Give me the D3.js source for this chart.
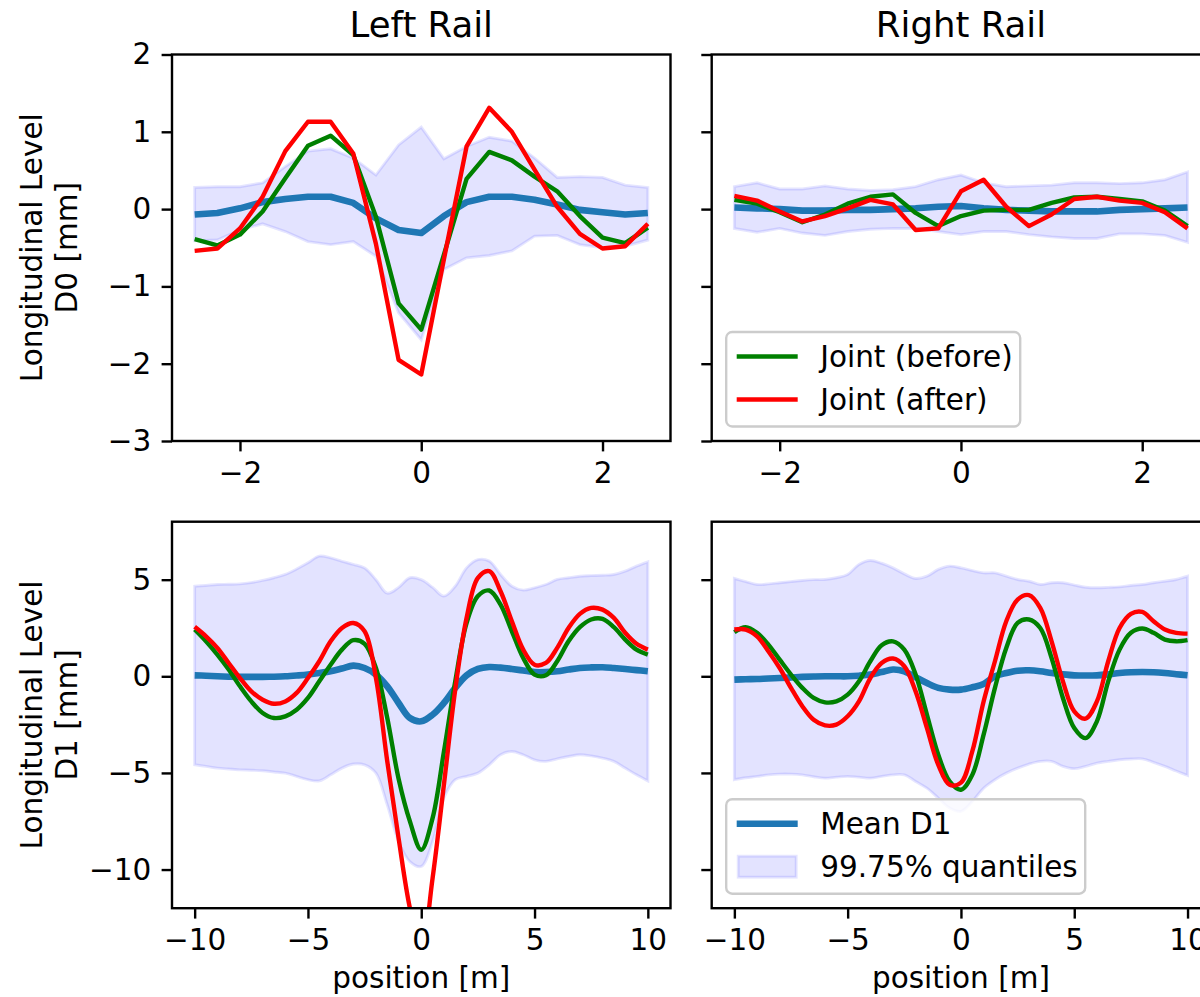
<!DOCTYPE html>
<html>
<head>
<meta charset="utf-8">
<script src="https://cdn.jsdelivr.net/npm/d3@7"></script>
<style>
  body { margin: 0; background: #fff; }
  svg { display: block; font-family: "DejaVu Sans", sans-serif; }
</style>
</head>
<body>
<svg id="chart" width="1200" height="997"></svg>
<script>
// ---- data ----
var railTitles = ["Left Rail", "Right Rail"];
var rowLabels = ["D0 [mm]", "D1 [mm]"];

// D0 (top row), 0.25 m steps
var xD0 = [-2.5, -2.25, -2, -1.75, -1.5, -1.25, -1, -0.75, -0.5, -0.25, 0, 0.25, 0.5, 0.75, 1, 1.25, 1.5, 1.75, 2, 2.25, 2.5];
var leftD0Before = [-0.39, -0.47, -0.33, -0.03, 0.40, 0.82, 0.95, 0.70, -0.10, -1.22, -1.56, -0.59, 0.39, 0.74, 0.63, 0.42, 0.23, -0.09, -0.37, -0.44, -0.24];
var leftD0After = [-0.54, -0.51, -0.25, 0.16, 0.75, 1.13, 1.13, 0.72, -0.45, -1.95, -2.14, -0.65, 0.81, 1.31, 1.00, 0.51, 0.03, -0.32, -0.51, -0.48, -0.19];
var leftD0Mean = [-0.07, -0.05, 0.01, 0.09, 0.13, 0.16, 0.16, 0.08, -0.12, -0.27, -0.31, -0.09, 0.09, 0.16, 0.16, 0.12, 0.06, -0.01, -0.04, -0.07, -0.05];
var leftD0Upper = [0.28, 0.29, 0.29, 0.34, 0.55, 0.75, 0.78, 0.66, 0.44, 0.83, 1.06, 0.65, 0.81, 0.93, 0.88, 0.66, 0.41, 0.42, 0.41, 0.31, 0.28];
var leftD0Lower = [-0.41, -0.40, -0.27, -0.19, -0.29, -0.42, -0.46, -0.42, -0.61, -1.34, -1.69, -0.78, -0.63, -0.60, -0.54, -0.35, -0.34, -0.46, -0.50, -0.48, -0.40];

var rightD0Before = [0.12, 0.07, -0.04, -0.17, -0.07, 0.07, 0.16, 0.19, -0.05, -0.22, -0.09, -0.02, -0.01, -0.01, 0.08, 0.15, 0.16, 0.13, 0.10, -0.02, -0.22];
var rightD0After = [0.17, 0.11, -0.03, -0.16, -0.09, 0.01, 0.12, 0.06, -0.27, -0.25, 0.23, 0.38, 0.03, -0.22, -0.07, 0.13, 0.16, 0.11, 0.08, -0.04, -0.25];
var rightD0Mean = [0.02, 0.01, 0.00, -0.02, -0.02, -0.01, -0.01, 0.00, 0.01, 0.03, 0.04, 0.01, -0.01, -0.02, -0.03, -0.03, -0.03, -0.01, 0.00, 0.01, 0.02];
var rightD0Upper = [0.29, 0.34, 0.26, 0.26, 0.30, 0.26, 0.24, 0.25, 0.29, 0.38, 0.44, 0.34, 0.29, 0.30, 0.31, 0.34, 0.34, 0.33, 0.34, 0.38, 0.48];
var rightD0Lower = [-0.25, -0.30, -0.25, -0.31, -0.34, -0.29, -0.26, -0.25, -0.25, -0.29, -0.33, -0.29, -0.29, -0.33, -0.36, -0.38, -0.38, -0.32, -0.32, -0.34, -0.43];

// D1 (bottom row), 0.5 m steps
var xD1 = [-10, -9.5, -9, -8.5, -8, -7.5, -7, -6.5, -6, -5.5, -5, -4.5, -4, -3.5, -3, -2.5, -2, -1.5, -1, -0.5, 0, 0.5, 1, 1.5, 2, 2.5, 3, 3.5, 4, 4.5, 5, 5.5, 6, 6.5, 7, 7.5, 8, 8.5, 9, 9.5, 10];
var leftD1Before = [2.42, 1.81, 1.12, 0.35, -0.52, -1.30, -1.90, -2.16, -2.07, -1.73, -1.12, -0.26, 0.60, 1.38, 1.87, 1.68, 0.43, -2.16, -5.30, -7.51, -8.98, -7.34, -3.90, -0.26, 2.75, 4.15, 4.44, 3.71, 2.33, 0.95, 0.09, 0.05, 0.78, 1.81, 2.54, 2.94, 2.97, 2.54, 1.90, 1.38, 1.12];
var leftD1After = [2.56, 2.07, 1.47, 0.69, -0.09, -0.78, -1.21, -1.42, -1.30, -0.86, -0.09, 0.78, 1.81, 2.50, 2.76, 2.33, -0.09, -4.40, -8.38, -12.0, -14.2, -10.45, -5.61, -0.69, 3.02, 5.09, 5.44, 4.40, 2.85, 1.38, 0.60, 0.69, 1.47, 2.50, 3.23, 3.54, 3.45, 3.02, 2.25, 1.68, 1.38];
var leftD1Mean = [0.05, 0.03, 0.00, -0.02, -0.03, -0.03, -0.03, -0.02, 0.00, 0.04, 0.09, 0.17, 0.26, 0.40, 0.55, 0.43, 0.09, -0.52, -1.38, -2.16, -2.33, -1.99, -1.38, -0.60, 0.05, 0.38, 0.48, 0.45, 0.38, 0.30, 0.22, 0.22, 0.26, 0.35, 0.43, 0.46, 0.47, 0.43, 0.38, 0.32, 0.26];
var leftD1Upper = [4.66, 4.70, 4.75, 4.76, 4.78, 4.85, 4.96, 5.10, 5.27, 5.55, 5.87, 6.22, 6.13, 5.95, 5.79, 5.60, 5.00, 4.30, 4.60, 5.10, 5.00, 4.60, 4.15, 4.66, 5.61, 6.04, 5.96, 5.27, 4.66, 4.46, 4.58, 4.75, 5.01, 5.10, 5.18, 5.21, 5.23, 5.27, 5.44, 5.70, 5.92];
var leftD1Lower = [-4.58, -4.66, -4.75, -4.80, -4.84, -4.86, -4.89, -4.95, -5.01, -5.18, -5.35, -5.41, -5.10, -4.75, -4.54, -4.58, -5.01, -6.65, -8.55, -9.59, -9.84, -8.55, -6.30, -5.35, -5.18, -5.01, -4.58, -4.06, -3.89, -4.06, -4.32, -4.40, -4.27, -4.15, -4.06, -4.12, -4.23, -4.40, -4.75, -5.10, -5.41];

var rightD1Before = [2.28, 2.54, 2.25, 1.64, 0.86, 0.09, -0.60, -1.12, -1.35, -1.30, -0.95, -0.26, 0.78, 1.61, 1.81, 1.38, 0.09, -1.99, -4.06, -5.44, -5.87, -5.10, -3.02, -0.60, 1.47, 2.76, 2.94, 2.50, 0.95, -1.12, -2.68, -3.20, -2.33, -0.26, 1.38, 2.25, 2.47, 2.25, 1.90, 1.81, 1.87];
var rightD1After = [2.42, 2.42, 2.07, 1.30, 0.43, -0.60, -1.55, -2.25, -2.54, -2.50, -2.07, -1.30, -0.09, 0.69, 0.92, 0.52, -0.78, -2.68, -4.58, -5.61, -5.50, -3.89, -1.30, 0.78, 2.85, 3.97, 4.20, 3.54, 1.81, -0.26, -1.81, -2.19, -1.30, 0.78, 2.50, 3.23, 3.33, 2.85, 2.42, 2.25, 2.21];
var rightD1Mean = [-0.17, -0.15, -0.14, -0.11, -0.09, -0.06, -0.03, -0.01, 0.00, 0.00, 0.00, 0.03, 0.09, 0.22, 0.35, 0.26, -0.05, -0.35, -0.60, -0.69, -0.69, -0.57, -0.40, 0.00, 0.17, 0.29, 0.31, 0.26, 0.17, 0.10, 0.05, 0.04, 0.05, 0.10, 0.17, 0.21, 0.22, 0.21, 0.17, 0.11, 0.05];
var rightD1Upper = [5.06, 4.90, 4.75, 4.78, 4.84, 4.90, 4.96, 5.00, 5.01, 5.10, 5.27, 5.79, 5.99, 5.85, 5.61, 5.30, 5.06, 5.18, 5.53, 5.70, 5.61, 5.47, 5.35, 5.35, 5.18, 5.01, 4.92, 4.75, 4.84, 4.84, 4.72, 4.61, 4.58, 4.60, 4.63, 4.70, 4.75, 4.84, 4.92, 5.01, 5.18];
var rightD1Lower = [-5.35, -5.25, -5.18, -5.10, -5.06, -5.06, -5.10, -5.20, -5.27, -5.22, -5.18, -5.22, -5.27, -5.18, -5.10, -5.10, -5.44, -5.79, -6.30, -6.82, -6.99, -6.48, -5.79, -5.35, -5.01, -4.75, -4.54, -4.40, -4.40, -4.66, -4.78, -4.66, -4.49, -4.40, -4.32, -4.28, -4.27, -4.45, -4.66, -4.90, -5.13];

// axis settings
var xDomainD0 = [-2.75, 2.75], yDomainD0 = [-3, 2];
var xDomainD1 = [-11, 11], yDomainD1 = [-12, 8];
var xTicksD0 = [-2, 0, 2], yTicksD0 = [-3, -2, -1, 0, 1, 2];
var xTicksD1 = [-10, -5, 0, 5, 10], yTicksD1 = [-10, -5, 0, 5];

// ---- layout (matplotlib figure at ~213 dpi) ----
var fontSize = 29.5; //10pt
var titleSize = 35.5; //12pt
var tickLen = 10.4, tickPad = 10.4, spineW = 2.4;
var panelW = 498.5, panelH = 386.5;
var colLeft = [172, 711.7];
var rowTop = [54.5, 521.7];

var svg = d3.select("#chart");
var intFormat = d3.format("d"); //d3 v7 already uses the unicode minus

var panels = [
    {row: 0, col: 0, x: xD0, before: leftD0Before, after: leftD0After, mean: leftD0Mean, up: leftD0Upper, lo: leftD0Lower},
    {row: 0, col: 1, x: xD0, before: rightD0Before, after: rightD0After, mean: rightD0Mean, up: rightD0Upper, lo: rightD0Lower},
    {row: 1, col: 0, x: xD1, before: leftD1Before, after: leftD1After, mean: leftD1Mean, up: leftD1Upper, lo: leftD1Lower},
    {row: 1, col: 1, x: xD1, before: rightD1Before, after: rightD1After, mean: rightD1Mean, up: rightD1Upper, lo: rightD1Lower}
];

panels.forEach(function (p, i) {
    var isD0 = p.row === 0;
    var xScale = d3.scaleLinear().domain(isD0 ? xDomainD0 : xDomainD1).range([0, panelW]);
    var yScale = d3.scaleLinear().domain(isD0 ? yDomainD0 : yDomainD1).range([panelH, 0]);
    var curve = isD0 ? d3.curveLinear : d3.curveCatmullRom.alpha(0.5); //D0 is piecewise, D1 smooth

    var g = svg.append("g")
        .attr("transform", `translate(${colLeft[p.col]}, ${rowTop[p.row]})`);

    g.append("clipPath").attr("id", "clip" + i)
        .append("rect").attr("width", panelW).attr("height", panelH);

    var plot = g.append("g").attr("clip-path", `url(#clip${i})`);

    var pts = p.x.map(function (x, k) {
        return {x: x, before: p.before[k], after: p.after[k], mean: p.mean[k], up: p.up[k], lo: p.lo[k]};
    });

    // quantile band
    plot.append("path")
        .datum(pts)
        .attr("d", d3.area().curve(curve)
            .x(d => xScale(d.x))
            .y0(d => yScale(d.lo))
            .y1(d => yScale(d.up)))
        .attr("fill", "blue")
        .attr("fill-opacity", 0.11)
        .attr("stroke", "blue")
        .attr("stroke-opacity", 0.1)
        .attr("stroke-width", 2.9);

    var lines = [
        {key: "mean", color: "#1f77b4", w: 6.6},
        {key: "before", color: "green", w: 4.4},
        {key: "after", color: "red", w: 4.4}
    ];
    lines.forEach(function (l) {
        plot.append("path")
            .datum(pts)
            .attr("d", d3.line().curve(curve).x(d => xScale(d.x)).y(d => yScale(d[l.key])))
            .attr("fill", "none")
            .attr("stroke", l.color)
            .attr("stroke-width", l.w)
            .attr("stroke-linejoin", "round");
    });

    // axes
    var xAxis = g.append("g")
        .attr("transform", `translate(0, ${panelH})`)
        .call(d3.axisBottom(xScale).tickValues(isD0 ? xTicksD0 : xTicksD1)
            .tickSize(tickLen).tickPadding(tickPad).tickSizeOuter(0)
            .tickFormat(intFormat));
    var yAxis = g.append("g")
        .call(d3.axisLeft(yScale).tickValues(isD0 ? yTicksD0 : yTicksD1)
            .tickSize(tickLen).tickPadding(tickPad).tickSizeOuter(0)
            .tickFormat(p.col === 0 ? intFormat : () => "")); //shared y: labels only on the left
    [xAxis, yAxis].forEach(function (a) {
        a.select(".domain").remove();
        a.selectAll("line").attr("stroke", "#000").attr("stroke-width", spineW);
        a.selectAll("text").attr("fill", "#000")
            .style("font-size", fontSize + "px")
            .style("font-family", "DejaVu Sans");
    });

    // spines on top
    g.append("rect")
        .attr("width", panelW).attr("height", panelH)
        .attr("fill", "none").attr("stroke", "#000").attr("stroke-width", spineW);

    if (p.row === 0) {
        g.append("text")
            .attr("x", panelW / 2).attr("y", -18)
            .attr("text-anchor", "middle")
            .style("font-size", titleSize + "px")
            .text(railTitles[p.col]);
    } else {
        g.append("text")
            .attr("x", panelW / 2).attr("y", panelH + 79.5)
            .attr("text-anchor", "middle")
            .style("font-size", fontSize + "px")
            .text("position [m]");
    }

    if (p.col === 0) { //two-line y label
        var midY = panelH / 2;
        g.append("text")
            .attr("transform", `translate(${41.5 - colLeft[0]}, ${midY}) rotate(-90)`)
            .attr("text-anchor", "middle")
            .style("font-size", fontSize + "px")
            .text("Longitudinal Level");
        g.append("text")
            .attr("transform", `translate(${76.9 - colLeft[0]}, ${midY}) rotate(-90)`)
            .attr("text-anchor", "middle")
            .style("font-size", fontSize + "px")
            .text(rowLabels[p.row]);
    }

    // legends live in the right column, lower left corner
    if (p.col === 1) {
        var items = isD0
            ? [{label: "Joint (before)", type: "line", color: "green", w: 4.4},
               {label: "Joint (after)", type: "line", color: "red", w: 4.4}]
            : [{label: "Mean D1", type: "line", color: "#1f77b4", w: 6.6},
               {label: "99.75% quantiles", type: "patch"}];
        var boxW = isD0 ? 294 : 359, boxH = 94.5;
        var lg = g.append("g")
            .attr("transform", `translate(14.5, ${panelH - 14.5 - boxH})`);
        lg.append("rect")
            .attr("width", boxW).attr("height", boxH)
            .attr("rx", 6).attr("ry", 6)
            .attr("fill", "#fff").attr("fill-opacity", 0.8)
            .attr("stroke", "#cccccc").attr("stroke-width", 2.4);
        items.forEach(function (it, k) {
            var cy = 24.5 + k * 43;
            if (it.type === "line") {
                lg.append("line")
                    .attr("x1", 10.5).attr("x2", 71.5)
                    .attr("y1", cy).attr("y2", cy)
                    .attr("stroke", it.color).attr("stroke-width", it.w);
            } else {
                lg.append("rect")
                    .attr("x", 12).attr("y", cy - 10.5)
                    .attr("width", 58).attr("height", 21)
                    .attr("fill", "blue").attr("fill-opacity", 0.11)
                    .attr("stroke", "blue").attr("stroke-opacity", 0.1).attr("stroke-width", 2.9);
            }
            lg.append("text")
                .attr("x", 94).attr("y", cy + 10)
                .style("font-size", fontSize + "px")
                .text(it.label);
        });
    }
});
</script>
</body>
</html>
